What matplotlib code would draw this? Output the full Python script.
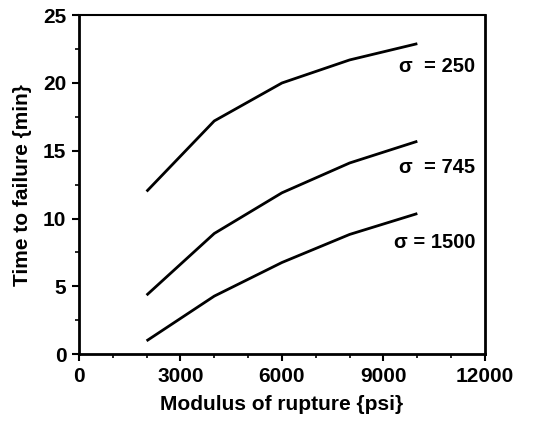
import matplotlib
matplotlib.use("Agg")
import matplotlib.pyplot as plt
from matplotlib.ticker import MultipleLocator

plt.rcParams['font.family'] = ['Liberation Sans', 'DejaVu Sans']

modulus = [2000, 4000, 6000, 8000, 10000]
t_250 = [12.0, 17.2, 20.0, 21.7, 22.9]
t_745 = [4.35, 8.9, 11.9, 14.1, 15.7]
t_1500 = [0.98, 4.28, 6.76, 8.83, 10.37]
labels = ["σ  = 250", "σ  = 745", "σ = 1500"]
label_y = [21.2, 13.8, 8.25]

fig = plt.figure(figsize=(5.33, 4.34), dpi=100)
ax = fig.add_axes([0.148, 0.184, 0.762, 0.781])

for series in (t_250, t_745, t_1500):
    ax.plot(modulus, series, color='black', lw=2.0, solid_capstyle='butt')

for lab, y in zip(labels, label_y):
    ax.text(11720, y, lab, ha='right', va='center', fontsize=14.5, fontweight='bold')

ax.set_xlim(0, 12000)
ax.set_ylim(0, 25)
ax.xaxis.set_major_locator(MultipleLocator(3000))
ax.xaxis.set_minor_locator(MultipleLocator(1000))
ax.yaxis.set_major_locator(MultipleLocator(5))
ax.yaxis.set_minor_locator(MultipleLocator(2.5))
ax.tick_params(axis='both', which='major', direction='out', length=5, width=1.5, labelsize=15, pad=4)
ax.tick_params(axis='both', which='minor', direction='out', length=3, width=1.2)
for lbl in ax.get_xticklabels() + ax.get_yticklabels():
    lbl.set_fontweight('bold')

for s in ['left', 'bottom', 'right']:
    ax.spines[s].set_linewidth(2.0)
ax.spines['top'].set_linewidth(1.5)

ax.set_xlabel("Modulus of rupture {psi}", fontsize=15, fontweight='bold', labelpad=7)
ax.set_ylabel("Time to failure {min}", fontsize=15, fontweight='bold', labelpad=8)

fig.savefig("out.png", dpi=100)
